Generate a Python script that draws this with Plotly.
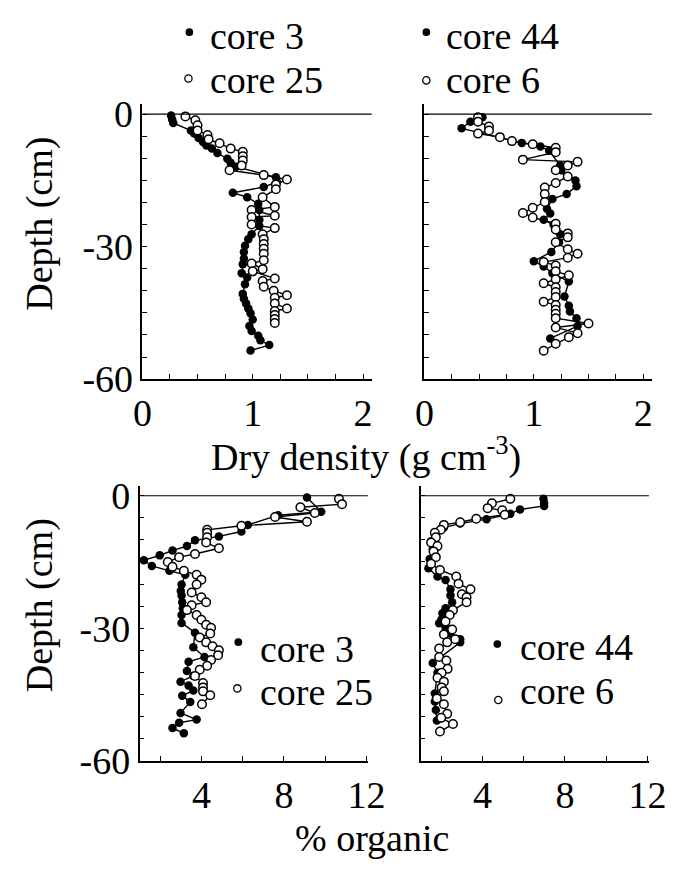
import plotly.graph_objects as go

W, H = 688, 879
FONT = "'Liberation Serif', 'Times New Roman', Times, serif"

# ---------------- data ----------------
# Dry density (g cm-3) vs depth (cm)
dd_core3_x = [0.26, 0.27, 0.28, 0.44, 0.47, 0.51, 0.55, 0.58, 0.63, 0.68, 0.77, 0.80, 0.85, 1.21, 1.22, 1.10,
              0.82, 0.95, 1.05, 1.06, 1.06, 1.06, 0.99, 0.96, 0.93, 0.92, 0.92, 0.91, 0.90, 0.95, 0.93, 0.91,
              0.92, 0.94, 0.96, 0.98, 1.00, 0.97, 0.99, 1.05, 1.07, 1.15, 0.98]
dd_core3_d = [-0.3, -1.2, -2.0, -3.7, -4.4, -5.4, -6.3, -7.1, -7.8, -8.8, -10.1, -11.0, -11.9, -14.3, -15.4, -16.5,
              -17.8, -18.8, -20.3, -21.7, -23.9, -25.3, -27.2, -28.3, -29.8, -31.2, -32.7, -34.0, -36.0, -37.0, -38.5, -40.7,
              -41.8, -42.9, -44.0, -45.1, -46.5, -48.0, -49.1, -50.2, -51.2, -52.3, -53.5]

dd_core25_x = [0.39, 0.48, 0.50, 0.50, 0.59, 0.60, 0.70, 0.80, 0.91, 0.91, 0.91, 0.90, 0.79, 1.10, 1.31, 1.21,
               1.21, 1.09, 1.20, 0.99, 1.20, 0.99, 0.99, 1.20, 1.09, 1.10, 1.10, 1.10, 1.10, 1.10, 0.99, 1.09,
               1.00, 1.20, 1.09, 1.10, 1.19, 1.31, 1.20, 1.20, 1.31, 1.20, 1.20, 1.20, 1.20]
dd_core25_d = [-0.5, -1.4, -2.5, -3.7, -4.7, -5.7, -6.6, -7.8, -8.5, -9.5, -10.5, -11.6, -12.7, -13.8, -14.8, -15.9,
               -17.0, -18.8, -21.0, -21.7, -23.0, -23.3, -25.0, -25.8, -27.2, -28.3, -29.4, -30.5, -31.6, -33.1, -33.8, -35.1,
               -35.6, -37.2, -37.8, -39.1, -40.0, -41.0, -41.6, -42.9, -44.0, -44.6, -45.5, -46.4, -47.3]

dd_core44_x = [0.53, 0.42, 0.34, 0.89, 1.06, 1.14, 1.24, 1.25, 1.38, 1.39, 1.30, 1.17, 1.12, 1.15, 1.09, 1.18,
               1.24, 1.23, 1.16, 1.00, 1.09, 1.17, 1.32, 1.28, 1.32, 1.33, 1.39, 1.40, 1.15]
dd_core44_d = [-0.7, -1.7, -3.2, -6.5, -7.3, -8.3, -11.6, -12.7, -15.0, -16.3, -18.1, -19.2, -21.4, -22.5, -23.9, -25.0,
               -27.2, -29.0, -31.2, -33.3, -34.5, -36.0, -37.9, -41.3, -43.4, -44.7, -46.2, -48.0, -50.8]

dd_core6_x = [0.49, 0.49, 0.59, 0.59, 0.49, 0.69, 0.80, 0.99, 1.20, 1.20, 0.90, 1.40, 1.31, 1.20, 1.31, 1.20,
              1.10, 1.10, 1.10, 0.99, 0.90, 0.99, 1.20, 1.20, 1.31, 1.31, 1.20, 1.31, 1.40, 1.31, 1.09, 1.20,
              1.20, 1.32, 1.20, 1.09, 1.20, 1.20, 1.20, 1.09, 1.20, 1.20, 1.20, 1.20, 1.50, 1.20, 1.40, 1.32,
              1.20, 1.09]
dd_core6_d = [-0.7, -1.7, -2.8, -3.7, -4.4, -5.2, -6.1, -6.8, -7.6, -8.6, -10.3, -10.8, -11.6, -12.7, -14.1, -15.6,
              -16.6, -18.1, -19.9, -21.2, -22.4, -23.4, -24.8, -26.1, -27.0, -27.9, -29.0, -30.6, -31.6, -32.5, -33.5, -34.3,
              -35.6, -36.5, -37.4, -38.3, -39.2, -40.3, -41.4, -42.5, -43.2, -44.3, -45.2, -46.2, -47.4, -48.3, -49.6, -50.5,
              -52.0, -53.6]

# % organic vs depth (cm)
om_core3_x = [9.12, 9.81, 7.72, 6.25, 5.94, 4.85, 3.69, 3.30, 2.60, 1.98, 1.21, 1.60, 2.45, 3.22, 3.04, 3.00,
              3.04, 3.07, 3.10, 3.04, 3.04, 3.69, 3.61, 4.15, 3.38, 3.30, 3.61, 2.99, 3.38, 3.61, 3.07, 3.46,
              2.99, 3.77, 2.92, 2.60, 3.15]
om_core3_d = [-0.4, -3.6, -4.4, -6.6, -8.1, -9.2, -10.1, -11.4, -12.4, -13.5, -14.6, -15.9, -17.0, -17.9, -20.1, -21.5,
              -22.6, -24.1, -25.5, -27.0, -28.8, -31.0, -34.3, -36.5, -37.6, -39.7, -40.8, -42.1, -43.0, -44.1, -45.3, -46.7,
              -49.2, -50.7, -51.4, -52.6, -53.8]

om_core25_x = [10.67, 10.82, 8.80, 9.50, 7.57, 9.12, 5.94, 4.28, 4.28, 4.28, 4.23, 4.85, 3.69, 2.92, 2.37, 2.60,
               3.15, 3.77, 4.00, 3.77, 3.53, 4.00, 4.23, 3.53, 3.30, 3.77, 4.00, 4.23, 4.47, 4.43, 3.92, 4.23,
               4.54, 4.85, 4.81, 4.47, 4.28, 3.92, 3.69, 4.08, 4.08, 4.08, 4.43, 4.03]
om_core25_d = [-0.7, -1.9, -2.6, -3.9, -4.8, -5.9, -6.8, -7.7, -8.4, -9.4, -10.6, -11.9, -13.2, -13.9, -15.0, -16.1,
               -17.0, -17.9, -19.0, -20.1, -21.9, -23.0, -24.1, -24.8, -25.9, -27.0, -28.1, -29.2, -29.9, -31.2, -32.1, -33.2,
               -34.1, -35.0, -36.1, -37.2, -38.5, -39.4, -40.8, -42.4, -43.4, -44.3, -45.2, -47.2]

om_core44_x = [6.96, 6.99, 6.99, 5.82, 5.35, 4.20, 2.92, 2.13, 1.74, 1.51, 1.59, 1.44, 1.38, 1.82, 2.21, 2.45,
               2.45, 2.53, 2.21, 2.06, 2.00, 1.90, 2.21, 2.45, 2.92, 2.92, 1.59, 1.82, 1.69, 1.69, 1.74, 1.79]
om_core44_d = [-0.7, -1.7, -2.3, -3.1, -4.1, -5.3, -6.3, -7.2, -8.4, -10.3, -12.1, -14.3, -16.4, -18.3, -19.1, -21.2,
               -22.6, -24.1, -25.5, -26.6, -28.1, -28.9, -29.9, -31.0, -32.5, -33.2, -37.9, -40.1, -44.8, -46.6, -48.5, -50.9]

om_core6_x = [5.35, 4.46, 4.25, 4.96, 5.08, 3.70, 2.92, 2.13, 1.98, 1.69, 1.74, 1.51, 1.82, 1.63, 1.74, 1.51,
              1.94, 2.73, 2.84, 3.42, 3.00, 3.23, 3.23, 2.57, 2.41, 2.21, 2.53, 2.13, 2.68, 2.29, 1.90, 1.90,
              2.25, 2.31, 2.02, 1.82, 2.13, 2.02, 2.13, 1.79, 2.13, 2.29, 2.00, 2.57, 1.94]
om_core6_d = [-0.7, -1.7, -2.8, -3.3, -4.3, -5.2, -6.0, -6.6, -7.7, -8.4, -9.4, -10.6, -11.4, -12.6, -13.9, -15.4,
              -16.8, -18.3, -19.9, -21.2, -22.3, -23.0, -24.1, -25.9, -27.0, -28.5, -30.3, -31.4, -32.5, -33.2, -34.6, -36.5,
              -37.3, -39.2, -40.1, -41.2, -42.1, -43.4, -44.3, -45.9, -47.2, -49.4, -50.3, -51.7, -53.4]

density_ticks = [0, 1, 2]
density_ticktext = ["0", "1", "2"]
density_minor = [0.25, 0.5, 0.75, 1.25, 1.5, 1.75]
organic_ticks = [4, 8, 12]
organic_ticktext = ["4", "8", "12"]
organic_minor = [2, 6, 10]
depth_ticks = [0, -30, -60]
depth_ticktext = ["0", "-30", "-60"]
depth_minor = [-5, -10, -15, -20, -25, -35, -40, -45, -50, -55]

# ---------------- figure ----------------
fig = go.Figure()


def add_series(x, y, filled, ax):
    fig.add_trace(go.Scatter(
        x=x, y=y, mode="lines+markers", xaxis="x" + ax, yaxis="y" + ax,
        line=dict(color="black", width=1.4),
        marker=dict(size=8.5,
                    color="black" if filled else "white",
                    line=dict(color="black", width=0 if filled else 1.5)),
        showlegend=False, hoverinfo="skip"))


add_series(dd_core3_x, dd_core3_d, True, "")
add_series(dd_core25_x, dd_core25_d, False, "")
add_series(dd_core44_x, dd_core44_d, True, "2")
add_series(dd_core6_x, dd_core6_d, False, "2")
add_series(om_core3_x, om_core3_d, True, "3")
add_series(om_core25_x, om_core25_d, False, "3")
add_series(om_core44_x, om_core44_d, True, "4")
add_series(om_core6_x, om_core6_d, False, "4")


def px(p):
    return p / W


def py(p):
    return 1 - p / H


tickfont = dict(family=FONT, size=38, color="black")
common = dict(showline=True, linecolor="black", linewidth=1.5, ticks="inside", ticklen=5,
              tickwidth=1, tickcolor="black", showgrid=False, zeroline=False, mirror=False,
              tickfont=tickfont, tickmode="array", fixedrange=True)


def minor(vals):
    return dict(tickmode="array", tickvals=vals, ticks="inside", ticklen=5, tickwidth=1,
                tickcolor="black", showgrid=False)


top_y = [py(382), py(97)]
bot_y = [py(778), py(493)]

fig.update_layout(
    width=W, height=H, margin=dict(l=0, r=0, t=0, b=0),
    paper_bgcolor="white", plot_bgcolor="white",
    font=dict(family=FONT, color="black", size=38),
    xaxis=dict(domain=[px(138), px(377)], range=[0, 2.078], anchor="y",
               tickvals=density_ticks, ticktext=density_ticktext, minor=minor(density_minor), **common),
    yaxis=dict(domain=top_y, range=[-60, 2.2], anchor="x",
               tickvals=depth_ticks, ticktext=depth_ticktext, minor=minor(depth_minor), **common),
    xaxis2=dict(domain=[px(432), px(669)], range=[0, 2.078], anchor="y2",
                tickvals=density_ticks, ticktext=density_ticktext, minor=minor(density_minor), **common),
    yaxis2=dict(domain=top_y, range=[-60, 2.2], anchor="x2",
                tickvals=depth_ticks, showticklabels=False, minor=minor(depth_minor), **common),
    xaxis3=dict(domain=[px(135), px(373)], range=[1, 12.07], anchor="y3",
                tickvals=organic_ticks, ticktext=organic_ticktext, minor=minor(organic_minor), **common),
    yaxis3=dict(domain=bot_y, range=[-60, 2.2], anchor="x3",
                tickvals=depth_ticks, ticktext=depth_ticktext, minor=minor(depth_minor), **common),
    xaxis4=dict(domain=[px(428), px(666)], range=[1, 12.07], anchor="y4",
                tickvals=organic_ticks, ticktext=organic_ticktext, minor=minor(organic_minor), **common),
    yaxis4=dict(domain=bot_y, range=[-60, 2.2], anchor="x4",
                tickvals=depth_ticks, showticklabels=False, minor=minor(depth_minor), **common),
)

# zero-depth reference lines
for ax in ["", "2", "3", "4"]:
    fig.add_shape(type="line", xref=("x" + ax + " domain"), yref=("y" + ax),
                  x0=0, x1=1, y0=0, y1=0, line=dict(color="black", width=1.2))

# axis titles
ann = []
ann.append(dict(text="Dry density (g cm<sup>-3</sup>)", x=px(371), y=py(460), xref="paper", yref="paper",
                showarrow=False, xanchor="center", yanchor="middle", font=dict(family=FONT, size=38)))
ann.append(dict(text="% organic", x=px(377), y=py(858), xref="paper", yref="paper",
                showarrow=False, xanchor="center", yanchor="middle", font=dict(family=FONT, size=38)))
for yc in [221, 617]:
    ann.append(dict(text="Depth (cm)", x=px(31), y=py(yc), xref="paper", yref="paper", textangle=-90,
                    showarrow=False, xanchor="center", yanchor="middle", font=dict(family=FONT, size=38)))

# legends: (marker x, marker y, text x, text center y, label, filled)
legend_items = [
    (187, 22, 206, 26, "core 3", True),
    (186, 70, 206, 72, "core 25", False),
    (434, 22, 452, 26, "core 44", True),
    (434, 72, 452, 72, "core 6", False),
    (238, 655, 258, 662, "core 3", True),
    (237, 703, 258, 707, "core 25", False),
    (508, 657, 530, 660, "core 44", True),
    (509, 715, 530, 706, "core 6", False),
]
for mx, my, tx, ty, label, filled in legend_items:
    r = 4 if filled else 3.8
    fig.add_shape(type="circle", xref="paper", yref="paper",
                  x0=px(mx - r), x1=px(mx + r), y0=py(my + r), y1=py(my - r),
                  fillcolor="black" if filled else "white",
                  line=dict(color="black", width=0 if filled else 1.3))
    ann.append(dict(text=label, x=px(tx), y=py(ty), xref="paper", yref="paper", showarrow=False,
                    xanchor="left", yanchor="middle", font=dict(family=FONT, size=38)))

fig.update_layout(annotations=ann)

fig.write_html("out.html")
